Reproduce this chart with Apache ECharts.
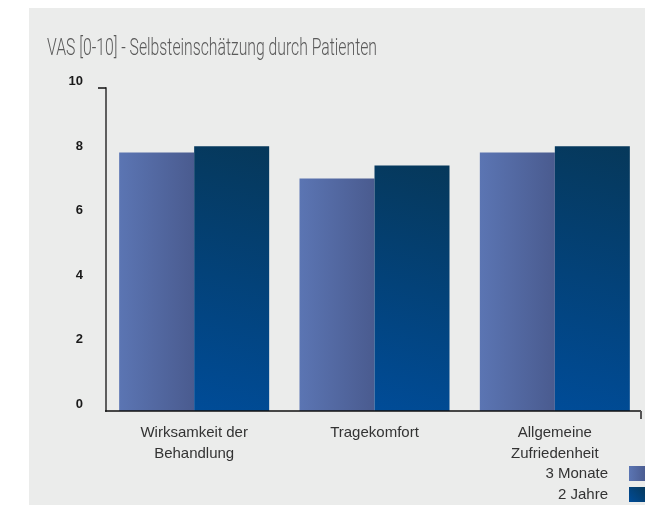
<!DOCTYPE html>
<html>
<head>
<meta charset="utf-8">
<script src="https://cdn.jsdelivr.net/npm/echarts@6/dist/echarts.min.js"></script>
<style>
html,body{margin:0;padding:0;background:#ffffff;}
#chart{width:645px;height:515px;}
</style>
</head>
<body>
<div id="chart"></div>
<script>
const titleText = 'VAS [0-10] - Selbsteinschätzung durch Patienten';
const categories = ['Wirksamkeit der\nBehandlung', 'Tragekomfort', 'Allgemeine\nZufriedenheit'];
const seriesNames = ['3 Monate', '2 Jahre'];
const months3 = [8.0, 7.2, 8.0];
const years2 = [8.2, 7.6, 8.2];
const yMin = 0, yMax = 10, yStep = 2;

const GRID = {left: 104, right: -2, top: 88, bottom: 104};
const W = 645, H = 515;
const AXIS_X = 106, AXIS_END = 641;

const chart = echarts.init(document.getElementById('chart'), null, {renderer: 'canvas'});

const c1 = new echarts.graphic.LinearGradient(0, 0, 1, 0, [
  {offset: 0, color: '#5b75b3'},
  {offset: 1, color: '#4a5b8f'}
]);
const c2 = new echarts.graphic.LinearGradient(1, 0, 0, 1, [
  {offset: 0, color: '#06385a'},
  {offset: 1, color: '#004c98'}
]);

const titleFont = '300 24px Roboto';
const cv = document.createElement('canvas').getContext('2d');
cv.font = titleFont;
const tw = cv.measureText(titleText).width;
const titleScale = 330 / tw;

chart.setOption({
  animation: false,
  backgroundColor: 'transparent',
  grid: GRID,
  legend: {
    orient: 'vertical',
    right: -6,
    top: 461,
    align: 'right',
    icon: 'rect',
    itemWidth: 17,
    itemHeight: 15,
    itemGap: 6,
    data: seriesNames,
    textStyle: {fontFamily: 'Liberation Sans', fontSize: 15, color: '#333', padding: [0, 16, 0, 0]}
  },
  xAxis: {
    type: 'category',
    data: categories,
    axisLine: {show: false},
    axisTick: {show: false},
    axisLabel: {fontFamily: 'Liberation Sans', fontSize: 15, color: '#333', lineHeight: 21, margin: 11, interval: 0}
  },
  yAxis: {
    type: 'value',
    min: yMin, max: yMax, interval: yStep,
    offset: -2,
    axisLine: {show: true, lineStyle: {color: '#5e5e5e', width: 2}},
    axisTick: {show: false},
    splitLine: {show: false},
    axisLabel: {fontFamily: 'Liberation Sans', fontSize: 13, fontWeight: 'bold', color: '#1a1a1a', margin: 23, verticalAlign: 'bottom', lineHeight: 13}
  },
  series: [
    {name: seriesNames[0], type: 'bar', data: months3, barWidth: 75, barGap: '0%', itemStyle: {color: c1}},
    {name: seriesNames[1], type: 'bar', data: years2, barWidth: 75, barGap: '0%', itemStyle: {color: c2}}
  ]
});

const yTop = chart.convertToPixel({yAxisIndex: 0}, yMax);
const yZero = chart.convertToPixel({yAxisIndex: 0}, yMin);

chart.setOption({
  graphic: [
    {type: 'rect', z: -10, silent: true, shape: {x: 29, y: 8, width: W - 29, height: 497}, style: {fill: '#ebeceb'}},
    {type: 'text', left: 47, top: 37, scaleX: titleScale, style: {text: titleText, font: titleFont, fill: '#5a5a5a'}},
    {type: 'line', z: 10, shape: {x1: AXIS_X - 8, y1: yTop, x2: AXIS_X, y2: yTop}, style: {stroke: '#111', lineWidth: 1.5}},
    {type: 'line', z: 10, shape: {x1: AXIS_X - 1, y1: yZero, x2: AXIS_END, y2: yZero}, style: {stroke: '#111', lineWidth: 1.5}},
    {type: 'line', z: 10, shape: {x1: AXIS_END, y1: yZero, x2: AXIS_END, y2: yZero + 8}, style: {stroke: '#555', lineWidth: 2}}
  ]
});
</script>
</body>
</html>
